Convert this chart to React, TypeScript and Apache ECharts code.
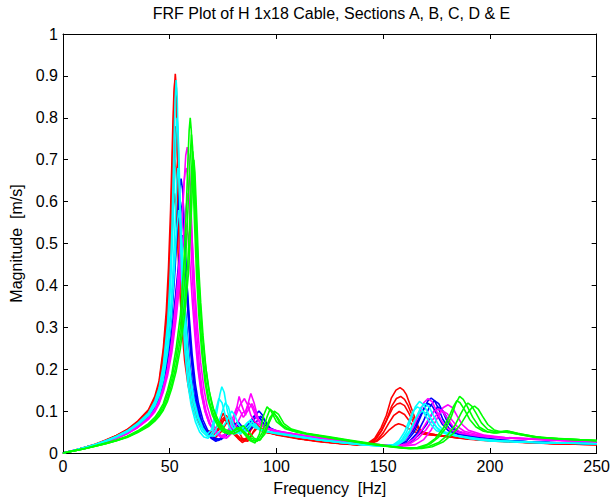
import React, { useEffect, useRef } from "react";
import * as echarts from "echarts";

type Pt = [number, number];

const TITLE = "FRF Plot of H 1x18 Cable, Sections A, B, C, D & E";
const X_NAME = "Frequency  [Hz]";
const Y_NAME = "Magnitude  [m/s]";
const X_MIN = 0;
const X_MAX = 250;
const X_STEP = 50;
const Y_MIN = 0;
const Y_MAX = 1;
const Y_STEP = 0.1;

const COLOR_A = "#ff0000";
const COLOR_B = "#0000ff";
const COLOR_C = "#ff00ff";
const COLOR_D = "#00ffff";
const COLOR_E = "#00ff00";

// Section A (red)
const A1: Pt[] = [[0,0],[5,.006],[10,.013],[15,.02],[20,.03],[25,.041],[30,.055],[35,.074],[40,.1],[43,.13],[45,.165],[47,.24],[48.6,.33],[49.6,.42],[50.6,.56],[51.6,.76],[52.1,.86],[52.6,.905],[53.1,.87],[53.6,.78],[54.6,.58],[55.6,.42],[56.6,.31],[58,.22],[59.6,.16],[61.6,.11],[64,.075],[67,.055],[70,.05],[73,.06],[76,.085],[78,.07],[80,.05],[83,.035],[85,.028],[87,.045],[89,.07],[91,.06],[94,.05],[100,.045],[110,.036],[120,.029],[130,.024],[138,.021],[143,.024],[146,.035],[149,.06],[151.5,.09],[153.8,.131],[156,.15],[157.9,.156],[159.5,.15],[160.8,.14],[163,.11],[164.9,.083],[166.5,.062],[168,.05],[172,.045],[180,.04],[190,.034],[200,.03],[215,.026],[230,.022],[250,.02]];
const A2: Pt[] = [[0,0],[5,.006],[10,.013],[15,.021],[20,.031],[25,.042],[30,.056],[35,.076],[40,.103],[43,.135],[45,.172],[47,.25],[48.4,.34],[49.4,.44],[50.4,.58],[51.4,.77],[51.9,.85],[52.4,.89],[52.9,.86],[53.4,.76],[54.4,.56],[55.4,.41],[56.4,.3],[58,.21],[59.5,.155],[61.5,.105],[64,.072],[67,.052],[70,.048],[73,.07],[75,.095],[77,.075],[80,.045],[83,.03],[86,.035],[88,.06],[90,.075],[92,.06],[95,.05],[100,.044],[110,.035],[120,.028],[130,.023],[138,.02],[143,.022],[146,.032],[149,.052],[151.5,.078],[154,.112],[156.2,.13],[158.2,.135],[160,.128],[161.5,.115],[163.5,.09],[165.5,.068],[167.5,.054],[170,.047],[175,.043],[185,.037],[195,.032],[210,.027],[230,.023],[250,.021]];
const A3: Pt[] = [[0,0],[5,.006],[10,.012],[15,.019],[20,.028],[25,.039],[30,.052],[35,.07],[40,.095],[43,.122],[45,.155],[47,.21],[48.5,.28],[49.5,.35],[50.5,.45],[51.5,.57],[52.2,.62],[52.9,.59],[53.7,.5],[54.7,.39],[55.7,.3],[57,.22],[58.5,.165],[60,.125],[62,.09],[65,.062],[68,.045],[71,.035],[74,.05],[77,.075],[79,.085],[81,.065],[84,.035],[87,.03],[89,.05],[91,.065],[94,.055],[100,.043],[110,.034],[120,.027],[130,.022],[138,.019],[143,.021],[147,.03],[150,.048],[152.5,.07],[155,.09],[157.5,.099],[160,.092],[162,.078],[164.5,.06],[167,.05],[171,.044],[180,.039],[190,.033],[200,.029],[215,.025],[230,.022],[250,.02]];
const A4: Pt[] = [[0,0],[5,.006],[10,.013],[15,.02],[20,.029],[25,.04],[30,.054],[35,.073],[40,.098],[43,.127],[45,.16],[47,.225],[48.8,.31],[49.8,.39],[50.8,.5],[51.8,.66],[52.3,.74],[52.8,.78],[53.3,.75],[53.8,.68],[54.8,.52],[55.8,.39],[56.8,.3],[58.3,.21],[60,.15],[62,.105],[64.5,.072],[67.5,.052],[70.5,.045],[73,.055],[75.5,.08],[77.5,.07],[80,.048],[82,.035],[84,.025],[86,.032],[88,.055],[90,.068],[92.5,.058],[96,.05],[100,.045],[110,.035],[120,.028],[130,.023],[138,.02],[143,.022],[146.5,.032],[149.5,.055],[152,.082],[154.5,.108],[156.5,.117],[158,.119],[160,.113],[162,.095],[164,.075],[166.5,.058],[169,.049],[175,.043],[185,.036],[195,.032],[210,.027],[230,.023],[250,.021]];
const A5: Pt[] = [[0,0],[5,.006],[10,.013],[15,.02],[20,.03],[25,.041],[30,.054],[35,.073],[40,.099],[43,.128],[45,.162],[47,.23],[48.5,.3],[49.5,.38],[50.5,.48],[51.5,.62],[52,.68],[52.5,.7],[53,.68],[53.6,.61],[54.5,.49],[55.5,.38],[56.5,.29],[58,.205],[59.5,.15],[61.5,.105],[64,.07],[67,.05],[70,.042],[72,.05],[74.5,.08],[76.5,.09],[78.5,.07],[81,.045],[84,.03],[86.5,.028],[89,.048],[91.5,.062],[94,.05],[100,.044],[110,.035],[120,.028],[130,.023],[138,.02],[143,.021],[147,.028],[150,.04],[153,.056],[155.5,.066],[157.2,.07],[159.5,.066],[162,.058],[165,.05],[169,.045],[178,.04],[190,.034],[200,.03],[215,.026],[230,.023],[250,.02]];

// Section B (blue)
const B1: Pt[] = [[0,0],[5,.006],[10,.012],[15,.019],[20,.027],[25,.037],[30,.049],[35,.065],[40,.087],[43,.108],[45,.13],[47,.165],[49,.23],[51,.33],[52.5,.44],[53.8,.57],[54.6,.63],[55.3,.655],[56,.63],[56.8,.55],[57.8,.43],[58.8,.33],[60,.24],[61.5,.165],[63,.115],[65,.075],[67.5,.048],[69.5,.035],[71.6,.028],[74,.035],[77,.05],[80,.06],[83,.055],[86,.06],[89,.085],[91.8,.1],[93.5,.09],[95.5,.065],[98,.055],[102,.05],[110,.041],[120,.034],[126,.031],[129,.033],[131,.031],[135,.026],[142,.021],[150,.017],[157,.018],[161,.028],[164.5,.05],[167,.08],[169.5,.11],[171,.125],[172.5,.131],[174,.125],[176,.105],[178,.08],[181,.058],[185,.046],[195,.036],[205,.03],[220,.026],[235,.024],[250,.022]];
const B2: Pt[] = [[0,0],[5,.006],[10,.012],[15,.019],[20,.028],[25,.038],[30,.05],[35,.067],[40,.09],[43,.112],[45,.135],[47,.172],[49,.24],[51,.35],[52.5,.46],[53.8,.56],[55,.6],[56.2,.56],[57.2,.46],[58.2,.36],[59.5,.26],[61,.18],[62.5,.125],[64.5,.082],[67,.052],[69.5,.036],[72.5,.03],[75,.04],[78,.058],[80.5,.07],[83,.06],[86,.055],[88.5,.07],[90.5,.088],[92.5,.082],[95,.062],[98,.054],[102,.049],[110,.04],[120,.033],[130,.027],[140,.022],[150,.017],[158,.017],[162,.026],[166,.048],[169,.078],[171.5,.108],[174,.125],[176,.118],[178,.098],[180,.075],[183,.056],[187,.046],[195,.037],[205,.031],[220,.026],[235,.024],[250,.022]];
const B3: Pt[] = [[0,0],[5,.006],[10,.012],[15,.018],[20,.027],[25,.036],[30,.048],[35,.064],[40,.085],[43,.105],[45,.126],[47,.158],[49,.21],[51,.29],[53,.39],[54.5,.47],[55.8,.52],[57,.49],[58,.41],[59.2,.32],[60.5,.235],[62,.165],[63.5,.118],[65.5,.08],[68,.052],[71,.036],[74,.032],[77,.045],[80,.065],[82,.075],[84,.062],[87,.052],[90,.07],[92.5,.088],[94.5,.078],[97,.06],[101,.051],[110,.041],[120,.034],[130,.028],[140,.022],[150,.017],[156,.018],[160,.028],[163.5,.05],[166.5,.08],[169,.106],[171,.118],[173,.112],[175,.094],[177.5,.07],[180.5,.053],[185,.045],[195,.036],[205,.03],[220,.026],[235,.024],[250,.022]];
const B4: Pt[] = [[0,0],[5,.006],[10,.012],[15,.019],[20,.028],[25,.037],[30,.049],[35,.066],[40,.088],[43,.108],[45,.128],[47,.16],[49,.21],[51,.28],[52.8,.37],[54,.43],[54.8,.45],[55.8,.43],[57,.36],[58.2,.285],[59.5,.21],[61,.15],[62.5,.11],[64.5,.075],[67,.05],[70,.034],[73,.03],[76,.042],[79,.055],[82,.05],[85,.058],[88,.075],[90,.09],[92,.085],[94.5,.066],[97,.056],[101,.05],[110,.04],[120,.033],[130,.027],[140,.022],[150,.017],[159,.017],[163,.026],[167,.045],[170.5,.07],[173,.095],[175.5,.11],[177.5,.104],[179.5,.088],[182,.066],[185,.052],[190,.043],[200,.034],[212,.028],[228,.025],[250,.022]];

// Section C (magenta)
const C1: Pt[] = [[0,0],[5,.006],[10,.012],[15,.018],[20,.026],[25,.035],[30,.046],[35,.061],[40,.081],[43,.1],[45,.12],[47,.15],[49,.195],[51,.26],[53,.35],[54.5,.44],[55.8,.55],[56.8,.65],[57.5,.71],[58.2,.73],[58.9,.71],[59.6,.64],[60.6,.5],[61.6,.38],[62.6,.29],[64,.2],[65.5,.14],[67,.1],[69,.07],[71.5,.048],[74,.038],[76.5,.035],[78.5,.045],[80.5,.085],[82.5,.135],[84,.11],[85.5,.09],[86.8,.12],[88,.142],[89.5,.12],[91.5,.08],[94,.06],[98,.053],[105,.046],[115,.038],[125,.031],[135,.025],[145,.02],[153,.017],[157,.02],[160.5,.032],[164,.06],[167,.095],[169,.12],[171,.13],[173,.122],[175,.1],[177.5,.075],[180.5,.058],[186,.047],[195,.04],[205,.036],[220,.034],[235,.03],[250,.027]];
const C2: Pt[] = [[0,0],[5,.006],[10,.012],[15,.018],[20,.026],[25,.035],[30,.047],[35,.062],[40,.083],[43,.102],[45,.123],[47,.155],[49,.2],[51,.27],[53,.37],[54.5,.46],[55.7,.56],[56.6,.64],[57.2,.67],[57.8,.68],[58.4,.66],[59.2,.59],[60.2,.47],[61.2,.36],[62.2,.275],[63.6,.195],[65,.14],[66.5,.1],[68.5,.07],[71,.05],[73.5,.04],[76,.045],[78.5,.06],[81,.09],[83,.115],[85,.13],[86.5,.115],[88,.09],[90,.075],[92.5,.066],[96,.058],[101,.052],[110,.044],[120,.036],[130,.03],[140,.024],[150,.019],[160,.017],[165,.02],[169,.032],[172.5,.055],[175.5,.085],[178,.108],[180.4,.115],[182.5,.108],[184.5,.09],[187,.068],[190,.054],[197,.043],[207,.037],[220,.034],[235,.03],[250,.027]];
const C3: Pt[] = [[0,0],[5,.006],[10,.012],[15,.018],[20,.026],[25,.035],[30,.046],[35,.061],[40,.08],[43,.098],[45,.117],[47,.146],[49,.185],[51,.24],[53,.32],[55,.42],[56.5,.52],[57.5,.58],[58.6,.62],[59.7,.58],[60.7,.49],[61.8,.39],[63,.3],[64.5,.215],[66,.155],[67.5,.112],[69.5,.078],[72,.052],[74.5,.04],[77,.038],[79.5,.05],[82,.075],[84,.095],[85.5,.1],[87,.12],[88.5,.11],[90.5,.085],[93,.066],[97,.057],[103,.05],[112,.042],[122,.035],[132,.029],[142,.023],[152,.018],[157,.017],[161,.022],[165,.036],[168.5,.058],[171.5,.083],[174,.1],[176,.105],[178,.098],[180,.083],[182.5,.065],[185.5,.052],[191,.044],[200,.038],[212,.035],[228,.031],[250,.027]];
const C4: Pt[] = [[0,0],[5,.006],[10,.012],[15,.018],[20,.027],[25,.036],[30,.047],[35,.063],[40,.084],[43,.103],[45,.124],[47,.155],[49,.2],[51,.26],[53,.34],[54.8,.43],[56.2,.51],[57.4,.55],[58.6,.52],[59.6,.44],[60.6,.36],[61.8,.28],[63.2,.2],[64.8,.14],[66.5,.1],[68.5,.07],[71,.05],[73.5,.04],[76,.042],[78,.06],[80,.09],[81.5,.11],[83,.1],[84.5,.085],[86.5,.1],[88.5,.118],[90,.1],[92,.075],[95,.06],[100,.052],[110,.044],[120,.036],[130,.03],[140,.024],[150,.019],[158,.017],[162.5,.022],[166.5,.035],[170,.055],[173,.078],[175.5,.094],[178,.1],[180,.094],[182,.08],[184.5,.064],[188,.052],[194,.044],[203,.038],[215,.034],[230,.03],[250,.027]];

// Section D (cyan)
const D1: Pt[] = [[0,0],[5,.006],[10,.013],[15,.02],[20,.029],[25,.04],[30,.053],[35,.071],[40,.096],[43,.124],[45,.155],[47,.21],[49,.31],[50,.4],[51,.53],[52,.74],[52.5,.84],[53,.89],[53.5,.85],[54,.74],[55,.52],[56,.36],[57,.25],[58.5,.165],[60,.115],[62,.075],[64,.05],[66,.038],[68,.035],[70,.05],[72,.095],[73.5,.14],[74.4,.158],[75.5,.145],[77,.1],[79,.065],[81,.05],[84,.06],[87,.075],[89,.065],[92,.055],[96,.05],[100,.048],[110,.04],[120,.032],[130,.026],[140,.021],[150,.017],[155.5,.02],[158.5,.03],[161,.05],[163,.08],[165,.11],[167,.123],[169,.115],[171,.095],[173.5,.07],[176,.055],[180,.045],[190,.035],[200,.029],[215,.026],[230,.024],[250,.022]];
const D2: Pt[] = [[0,0],[5,.006],[10,.013],[15,.02],[20,.029],[25,.039],[30,.052],[35,.07],[40,.094],[43,.12],[45,.15],[47,.2],[49,.29],[50.4,.4],[51.4,.52],[52.4,.68],[52.9,.76],[53.4,.8],[53.9,.77],[54.4,.69],[55.4,.5],[56.4,.36],[57.4,.26],[59,.17],[60.5,.12],[62.5,.08],[65,.052],[67.5,.04],[70,.042],[72,.06],[74,.09],[76,.12],[77.5,.11],[79,.08],[81,.055],[83,.045],[86,.06],[88,.07],[90,.06],[94,.052],[100,.047],[110,.039],[120,.031],[130,.025],[140,.02],[150,.016],[154.5,.019],[157.5,.03],[160,.05],[162,.075],[164,.1],[166,.11],[168,.104],[170,.088],[172.5,.067],[175,.053],[180,.045],[190,.035],[200,.029],[215,.026],[230,.024],[250,.022]];
const D3: Pt[] = [[0,0],[5,.006],[10,.012],[15,.019],[20,.028],[25,.038],[30,.051],[35,.068],[40,.091],[43,.116],[45,.142],[47,.185],[49,.26],[50.5,.35],[51.8,.46],[52.8,.58],[53.3,.65],[53.8,.68],[54.3,.66],[54.8,.6],[55.8,.47],[56.8,.36],[58,.265],[59.5,.18],[61,.125],[63,.085],[65.5,.055],[68,.042],[71,.04],[74,.055],[76.5,.075],[79,.1],[80.5,.09],[82,.07],[84,.055],[86,.05],[88,.065],[90,.07],[92,.058],[96,.05],[100,.046],[110,.038],[120,.031],[130,.025],[140,.02],[150,.016],[156,.019],[159,.03],[162,.05],[164.5,.075],[166.5,.094],[168.5,.1],[170.5,.094],[172.5,.08],[175,.062],[178,.05],[185,.04],[195,.033],[205,.028],[220,.025],[235,.024],[250,.022]];
const D4: Pt[] = [[0,0],[5,.006],[10,.012],[15,.019],[20,.028],[25,.038],[30,.05],[35,.067],[40,.089],[43,.112],[45,.136],[47,.175],[49,.24],[50.5,.31],[52,.42],[53.2,.53],[54.2,.58],[55.2,.54],[56.2,.44],[57.2,.34],[58.5,.25],[60,.175],[61.5,.125],[63.5,.085],[65.5,.06],[67.5,.045],[69.5,.055],[71.5,.1],[73,.13],[74.5,.12],[76,.09],[78,.06],[80,.045],[83,.05],[86,.07],[88,.08],[90,.065],[93,.055],[100,.047],[110,.039],[120,.031],[130,.025],[140,.02],[150,.016],[156.5,.019],[160,.03],[162.5,.05],[165,.08],[167.5,.108],[169.5,.118],[171.5,.11],[173.5,.09],[176,.066],[179,.05],[185,.041],[195,.034],[205,.029],[220,.026],[235,.024],[250,.022]];

// Section E (green)
const E1: Pt[] = [[0,0],[5,.005],[10,.01],[15,.017],[20,.024],[25,.031],[30,.04],[35,.053],[40,.07],[43,.085],[45,.1],[47,.118],[49,.15],[51,.19],[53,.25],[55,.33],[56.5,.44],[57.6,.56],[58.6,.71],[59.1,.77],[59.6,.8],[60.1,.77],[60.6,.7],[61.6,.55],[62.6,.42],[63.6,.33],[65,.24],[66.5,.17],[68,.125],[70,.09],[72.5,.065],[75,.05],[78,.045],[80.5,.055],[82.5,.06],[85,.045],[87.5,.03],[90,.024],[92,.045],[94,.09],[95.6,.11],[97.5,.1],[100,.075],[104,.058],[110,.049],[120,.04],[130,.032],[140,.024],[150,.017],[158,.012],[163,.01],[168,.013],[172,.022],[176,.038],[179.5,.06],[182,.088],[184,.118],[185.8,.135],[187.5,.128],[189.5,.11],[192,.085],[195,.062],[199,.05],[203,.048],[207.5,.052],[212,.046],[220,.038],[230,.034],[240,.032],[250,.03]];
const E2: Pt[] = [[0,0],[5,.005],[10,.01],[15,.016],[20,.023],[25,.03],[30,.039],[35,.051],[40,.067],[43,.081],[45,.095],[47,.112],[49,.14],[51,.178],[53,.23],[55,.3],[56.8,.4],[58,.52],[59.2,.66],[59.7,.72],[60.2,.76],[60.7,.73],[61.3,.65],[62.3,.51],[63.3,.4],[64.3,.31],[65.7,.225],[67.2,.16],[68.8,.118],[71,.085],[73.5,.062],[76,.05],[79,.05],[81.5,.06],[83.5,.058],[86,.042],[88.5,.03],[91,.028],[93.5,.05],[95.5,.085],[97,.105],[99,.095],[101.5,.072],[105,.058],[112,.048],[122,.039],[132,.031],[142,.023],[152,.016],[160,.012],[166,.011],[171,.015],[176,.025],[180,.042],[183.5,.065],[186.5,.095],[188.5,.113],[189.7,.119],[191.5,.112],[193.5,.095],[196,.072],[199,.056],[203,.05],[208,.053],[213,.047],[222,.038],[235,.033],[250,.03]];
const E3: Pt[] = [[0,0],[5,.005],[10,.01],[15,.016],[20,.022],[25,.029],[30,.038],[35,.05],[40,.065],[43,.078],[45,.09],[47,.106],[49,.13],[51,.165],[53,.21],[55,.275],[57,.36],[58.5,.46],[59.8,.6],[60.3,.68],[60.8,.72],[61.3,.69],[62,.61],[63,.48],[64,.38],[65,.3],[66.5,.22],[68,.16],[69.8,.115],[72,.082],[74.5,.06],[77,.048],[80,.046],[83,.055],[85,.05],[87.5,.038],[90,.03],[92.5,.032],[95,.058],[97,.085],[98.5,.095],[100.5,.085],[103,.065],[107,.054],[114,.046],[124,.038],[134,.03],[144,.022],[154,.015],[162,.011],[168,.011],[173,.015],[178,.026],[182.5,.045],[186.5,.07],[189.5,.095],[191.5,.108],[192.8,.112],[194.5,.105],[196.5,.088],[199,.068],[202,.055],[205.5,.05],[209,.051],[214,.045],[224,.037],[237,.033],[250,.029]];
const E4: Pt[] = [[0,0],[5,.005],[10,.01],[15,.016],[20,.022],[25,.029],[30,.037],[35,.049],[40,.063],[43,.076],[45,.087],[47,.102],[49,.124],[51,.155],[53,.195],[55,.25],[57,.33],[58.8,.43],[60.2,.58],[60.8,.66],[61.3,.7],[61.8,.67],[62.6,.57],[63.5,.45],[64.5,.36],[65.6,.28],[67,.2],[68.6,.145],[70.5,.105],[73,.075],[76,.056],[79,.05],[82,.058],[84.5,.065],[87,.05],[89.5,.035],[92,.03],[94.5,.045],[96.8,.075],[99,.1],[101,.092],[103.5,.07],[107,.057],[114,.047],[124,.039],[134,.031],[144,.023],[154,.016],[161,.012],[166,.013],[170.5,.02],[174.5,.035],[178,.058],[181,.088],[183,.112],[184.5,.125],[186,.12],[188,.104],[190.5,.08],[193.5,.062],[197,.052],[202,.048],[207,.05],[212,.046],[220,.039],[235,.033],[250,.03]];

const SECTIONS: { color: string; curves: Pt[][] }[] = [
  { color: COLOR_A, curves: [A1, A2, A3, A4, A5] },
  { color: COLOR_B, curves: [B1, B2, B3, B4] },
  { color: COLOR_C, curves: [C1, C2, C3, C4] },
  { color: COLOR_D, curves: [D1, D2, D3, D4] },
  { color: COLOR_E, curves: [E1, E2, E3, E4] },
];

const FONT = '"Liberation Sans", Arial, Helvetica, sans-serif';
const FONT_SIZE = 16;

export default function App() {
  const ref = useRef<HTMLDivElement>(null);

  useEffect(() => {
    if (!ref.current) return;
    const chart = echarts.init(ref.current, null, { renderer: "svg" });

    const axisBase = {
      type: "value" as const,
      axisLine: { show: true, onZero: false, lineStyle: { color: "#000", width: 1 } },
      axisTick: { show: true, inside: true, length: 5, lineStyle: { color: "#000", width: 1 } },
      splitLine: { show: false },
    };

    const series: any[] = [];
    SECTIONS.forEach((sec) => {
      sec.curves.forEach((c) => {
        series.push({
          type: "line",
          data: c,
          showSymbol: false,
          symbol: "none",
          silent: true,
          xAxisIndex: 0,
          yAxisIndex: 0,
          lineStyle: { color: sec.color, width: 1.6 },
          itemStyle: { color: sec.color },
          z: 2,
        });
      });
    });

    chart.setOption({
      animation: false,
      backgroundColor: "#ffffff",
      grid: { left: 63, right: 13, top: 34, bottom: 44, containLabel: false },
      graphic: [
        {
          type: "text",
          x: 331.5,
          y: 5,
          style: {
            text: TITLE,
            fill: "#000",
            font: `${FONT_SIZE}px ${FONT}`,
            textAlign: "center",
            textVerticalAlign: "top",
          },
        },
      ],
      xAxis: [
        {
          ...axisBase,
          position: "bottom",
          min: X_MIN,
          max: X_MAX,
          interval: X_STEP,
          axisLabel: { color: "#000", fontSize: FONT_SIZE, fontFamily: FONT, margin: 5 },
          name: X_NAME,
          nameLocation: "middle",
          nameGap: 27,
          nameTextStyle: { color: "#000", fontSize: FONT_SIZE, fontFamily: FONT },
        },
        {
          ...axisBase,
          position: "top",
          min: X_MIN,
          max: X_MAX,
          interval: X_STEP,
          axisLabel: { show: false },
        },
      ],
      yAxis: [
        {
          ...axisBase,
          position: "left",
          min: Y_MIN,
          max: Y_MAX,
          interval: Y_STEP,
          axisLabel: { color: "#000", fontSize: FONT_SIZE, fontFamily: FONT, margin: 5 },
          name: Y_NAME,
          nameLocation: "middle",
          nameGap: 35,
          nameTextStyle: { color: "#000", fontSize: FONT_SIZE, fontFamily: FONT },
        },
        {
          ...axisBase,
          position: "right",
          min: Y_MIN,
          max: Y_MAX,
          interval: Y_STEP,
          axisLabel: { show: false },
        },
      ],
      series,
    });

    return () => chart.dispose();
  }, []);

  return (
    <div
      ref={ref}
      style={{ position: "fixed", left: 0, top: 0, width: 613, height: 501, background: "#fff" }}
    />
  );
}
